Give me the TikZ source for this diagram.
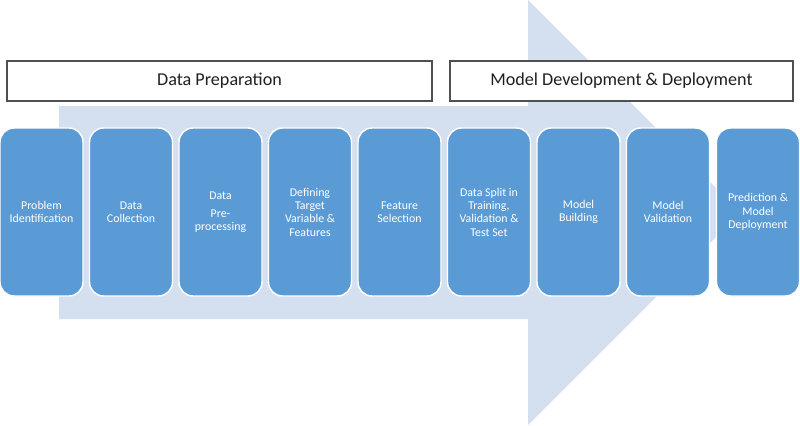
\documentclass[tikz,border=0pt]{standalone}
\usepackage{fontspec}
\setmainfont{Carlito}

\definecolor{arrowfill}{RGB}{212,223,239}
\definecolor{stagefill}{RGB}{91,155,213}
\definecolor{phaseline}{RGB}{80,80,80}

\tikzset{every picture/.style={line width=0.75pt}}
\tikzset{
  stagebox/.style={draw=white, line width=1.1pt, fill=stagefill, rounded corners=10.5pt,
    minimum width=62.25pt, minimum height=126pt, inner sep=1pt,
    align=center, text=white, font=\fontsize{8.9}{10}\selectfont},
  phasebox/.style={draw=phaseline, line width=1.1pt, fill=white, minimum height=30pt,
    inner sep=0pt, font=\fontsize{13.6}{16}\selectfont, text={rgb,255:red,32;green,32;blue,32}}
}

\begin{document}
\begin{tikzpicture}[x=0.75pt,y=0.75pt,yscale=-1,xscale=1]

\useasboundingbox (0,0) rectangle (800,425);

% big background arrow
\fill [arrowfill] (59,106) -- (528,106) -- (528,0) -- (740.5,212.5) -- (528,425) -- (528,319) -- (59,319) -- cycle ;

% phase headers
\node [phasebox, minimum width=318.75pt] (prep) at (219.5,81) {Data Preparation};
\node [phasebox, minimum width=257.25pt] (model) at (621.5,81) {Model Development \& Deployment};

% stages
\node [stagebox] (problem) at (41.5,212) {Problem\\Identification};
\node [stagebox] (collect) at (131,212) {Data\\Collection};
\node [stagebox] (preproc) at (220.5,212) {Data\\[3.5pt]Pre-\\processing};
\node [stagebox] (target) at (310,212) {Defining\\Target\\Variable \&\\Features};
\node [stagebox] (select) at (399.5,212) {Feature\\Selection};
\node [stagebox] (split) at (489,212) {Data Split in\\Training,\\Validation \&\\Test Set};
\node [stagebox] (build) at (578.5,212) {Model\\Building};
\node [stagebox] (valid) at (668,212) {Model\\Validation};
\node [stagebox] (deploy) at (758,212) {Prediction \&\\Model\\Deployment};

\end{tikzpicture}
\end{document}
